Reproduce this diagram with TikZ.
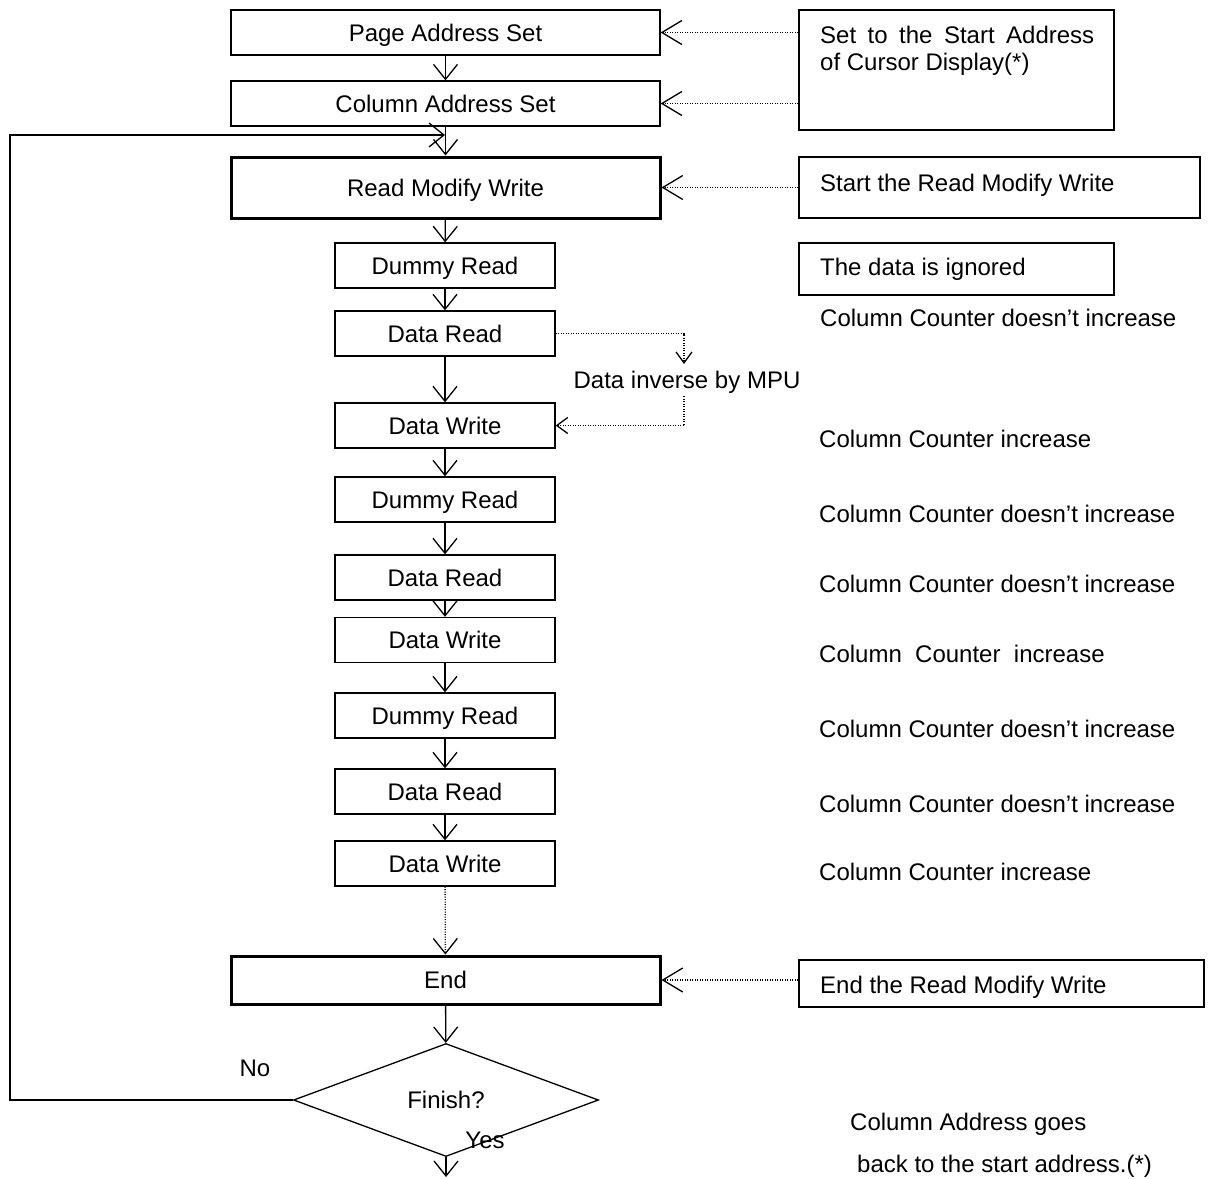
\documentclass[tikz,border=0pt]{standalone}
\usepackage{fontspec}
\setmainfont{Liberation Sans}
\usetikzlibrary{arrows.meta,shapes.geometric}
\begin{document}
\begin{tikzpicture}[x=1pt,y=-1pt,
  font=\fontsize{24}{28}\selectfont,
  every node/.style={inner sep=0pt},
  flow/.style={draw,line width=1.3pt,minimum height=45pt,text height=17pt,text depth=0pt},
  widebox/.style={flow,minimum width=429pt},
  narrowbox/.style={flow,minimum width=220pt},
  boldbox/.style={line width=3pt},
  notebox/.style={draw,line width=1.3pt},
  notetext/.style={anchor=base west},
  dotline/.style={dash pattern=on 1pt off 1.5pt},
  arr/.style={line width=1.3pt,-{Straight Barb[length=15pt,width=24pt,line width=1.3pt]}},
  darr/.style={line width=1.3pt,dotline,-{Straight Barb[length=20pt,width=24pt,line width=1.3pt]}},
  sarr/.style={line width=1.3pt,dotline,-{Straight Barb[length=11pt,width=16pt,line width=1.3pt]}}
]
\useasboundingbox (0,0) rectangle (1209,1178);

% main flow
\node[widebox] (pas) at (445.5,32.5) {Page Address Set};
\node[widebox] (cas) at (445.5,103.5) {Column Address Set};
\node[widebox,boldbox,minimum height=61pt] (rmw) at (445.5,187.5) {Read Modify Write};
\node[narrowbox] (dr1) at (445,265.5) {Dummy Read};
\node[narrowbox] (rd1) at (445,333.5) {Data Read};
\node[narrowbox] (wr1) at (445,425.5) {Data Write};
\node[narrowbox] (dr2) at (445,499.5) {Dummy Read};
\node[narrowbox] (rd2) at (445,577.5) {Data Read};
\node[narrowbox] (wr2) at (445,640) {Data Write};
\node[narrowbox] (dr3) at (445,715.5) {Dummy Read};
\node[narrowbox] (rd3) at (445,791.5) {Data Read};
\node[narrowbox] (wr3) at (445,863.5) {Data Write};
\node[widebox,boldbox,minimum height=48pt] (end) at (445.5,980) {End};
\node[draw,diamond,line width=1.3pt,minimum width=305pt,minimum height=113pt,
      text height=17pt,text depth=0pt] (fin) at (446,1100) {Finish?};

% note boxes
\node[notebox,minimum width=315pt,minimum height=120pt] (n1) at (956.5,70) {};
\node[notetext] (n1a) at (820,43.5) {\makebox[274pt][s]{Set to the Start Address}};
\node[notetext] (n1b) at (820,70.5) {of Cursor Display(*)};
\node[notebox,minimum width=401pt,minimum height=61pt] (n2) at (999.5,187.5) {};
\node[notetext] (n2t) at (820,191.5) {Start the Read Modify Write};
\node[notebox,minimum width=315pt,minimum height=52pt] (n3) at (956.5,269) {};
\node[notetext] (n3t) at (820,275.5) {The data is ignored};
\node[notebox,minimum width=405pt,minimum height=47pt] (n4) at (1001.5,983.5) {};
\node[notetext] (n4t) at (820,993.5) {End the Read Modify Write};

% counter notes
\node[notetext] (c1) at (820,326.5) {Column Counter doesn’t increase};
\node[notetext] (c2) at (819,447.5) {Column Counter increase};
\node[notetext] (c3) at (819,522.5) {Column Counter doesn’t increase};
\node[notetext] (c4) at (819,592.5) {Column Counter doesn’t increase};
\node[notetext] (c5) at (819,662.5) {Column\ \ Counter\ \ increase};
\node[notetext] (c6) at (819,737.5) {Column Counter doesn’t increase};
\node[notetext] (c7) at (819,812.5) {Column Counter doesn’t increase};
\node[notetext] (c8) at (819,880.5) {Column Counter increase};
\node[notetext] (g1) at (850,1130.5) {Column Address goes};
\node[notetext] (g2) at (857,1172.5) {back to the start address.(*)};

% labels
\node (inv) at (687,382) {Data inverse by MPU};
\node (no) at (255,1068) {No};
\node (yes) at (485,1140) {Yes};

% connectors
\draw[arr] (pas) -- (cas);
\draw[arr] (cas) -- (rmw);
\draw[arr] (rmw) -- (dr1);
\draw[arr] (dr1) -- (rd1);
\draw[arr] (rd1) -- (wr1);
\draw[arr] (wr1) -- (dr2);
\draw[arr] (dr2) -- (rd2);
\draw[arr] (rd2) -- (wr2);
\draw[arr] (wr2) -- (dr3);
\draw[arr] (dr3) -- (rd3);
\draw[arr] (rd3) -- (wr3);
\draw[arr,dotline] (wr3) -- (end);
\draw[arr] (end) -- (fin);
\coordinate (exit) at (446,1177);
\draw[arr] (fin.south) -- (exit);

% loop back
\coordinate (loopL) at (10,135);
\coordinate (loopR) at (445,135);
\draw[arr] (fin.west) -| (loopL) -- (loopR);

% dotted note arrows
\draw[darr] (n1.west |- pas.east) -- (pas.east);
\draw[darr] (n1.west |- cas.east) -- (cas.east);
\draw[darr] (n2.west) -- (rmw.east);
\draw[darr] (n4.west |- end.east) -- (end.east);

% data inverse
\coordinate (invTop) at (684,364);
\coordinate (invBot) at (684,396);
\draw[sarr] (rd1.east) -| (invTop);
\draw[sarr] (invBot) |- (wr1.east);
\end{tikzpicture}
\end{document}
